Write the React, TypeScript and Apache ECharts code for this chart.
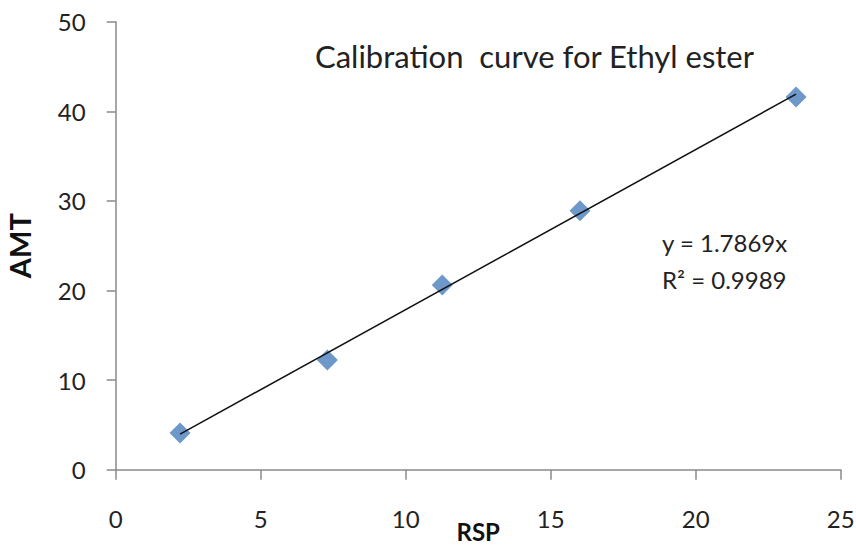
import React, { useEffect, useRef } from "react";
import * as echarts from "echarts";

const rsp = [2.22, 7.3, 11.26, 16.01, 23.46];
const amt = [4.1, 12.24, 20.6, 28.9, 41.6];
const trendX = [2.22, 23.46];
const trendY = [3.97, 41.92];
const titleText = "Calibration  curve for Ethyl ester";
const equationText = "y = 1.7869x";
const r2Text = "R² = 0.9989";
const xAxisName = "RSP";
const yAxisName = "AMT";

const FONT = "Lato, 'Noto Sans', sans-serif";

export default function App() {
  const ref = useRef<HTMLDivElement>(null);
  useEffect(() => {
    if (!ref.current) return;
    const chart = echarts.init(ref.current, undefined, { renderer: "svg" });
    const axisLineStyle = { color: "#8a8a8a", width: 1.5 };
    chart.setOption({
      animation: false,
      backgroundColor: "#ffffff",
      grid: {
        left: 115.7,
        right: 15.3,
        top: 21.7,
        bottom: 76.3,
        containLabel: false,
        outerBoundsMode: "none",
      },
      xAxis: {
        type: "value",
        min: 0,
        max: 25,
        interval: 5,
        name: xAxisName,
        nameLocation: "middle",
        nameGap: 50,
        nameMoveOverlap: false,
        nameTextStyle: { fontFamily: FONT, fontSize: 24, fontWeight: "bold", color: "#111" },
        axisLine: { show: true, onZero: false, lineStyle: axisLineStyle },
        axisTick: { show: true, length: 10, lineStyle: axisLineStyle },
        axisLabel: { margin: 37, fontFamily: FONT, fontSize: 24, color: "#222" },
        splitLine: { show: false },
      },
      yAxis: {
        type: "value",
        min: 0,
        max: 50,
        interval: 10,
        name: yAxisName,
        nameLocation: "middle",
        nameGap: 82,
        nameRotate: 90,
        nameMoveOverlap: false,
        nameTextStyle: { fontFamily: FONT, fontSize: 29, fontWeight: "bold", color: "#111" },
        axisLine: { show: true, lineStyle: axisLineStyle },
        axisTick: { show: true, length: 9, lineStyle: axisLineStyle },
        axisLabel: { margin: 30, fontFamily: FONT, fontSize: 24, color: "#222" },
        splitLine: { show: false },
      },
      graphic: [
        {
          type: "text",
          x: 315,
          y: 56,
          style: {
            text: titleText,
            fontFamily: FONT,
            fontSize: 31,
            fill: "#222",
            verticalAlign: "middle",
            align: "left",
          },
        },
        {
          type: "text",
          x: 662,
          y: 242,
          style: {
            text: equationText,
            fontFamily: FONT,
            fontSize: 24,
            fill: "#222",
            verticalAlign: "middle",
            align: "left",
          },
        },
        {
          type: "text",
          x: 662,
          y: 279,
          style: {
            text: r2Text,
            fontFamily: FONT,
            fontSize: 24,
            fill: "#222",
            verticalAlign: "middle",
            align: "left",
          },
        },
      ],
      series: [
        {
          type: "scatter",
          data: rsp.map((x, i) => [x, amt[i]]),
          symbol: "diamond",
          symbolSize: 21,
          itemStyle: { color: "#4a7ebb" },
          z: 2,
        },
        {
          type: "line",
          data: trendX.map((x, i) => [x, trendY[i]]),
          symbol: "none",
          lineStyle: { color: "#111", width: 1.5 },
          z: 3,
        },
      ],
    });
    return () => chart.dispose();
  }, []);
  return (
    <div
      ref={ref}
      style={{ position: "absolute", left: 0, top: 0, width: 856, height: 546 }}
    />
  );
}
